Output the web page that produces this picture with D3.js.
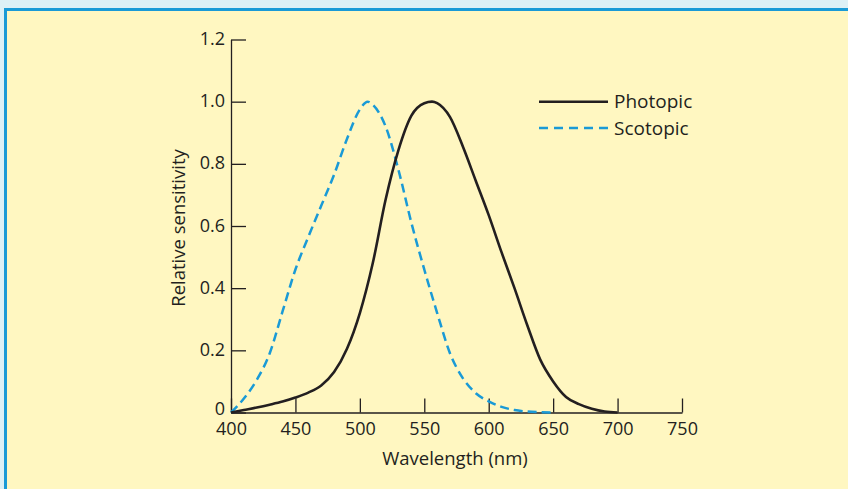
<!DOCTYPE html>
<html>
<head>
<meta charset="utf-8">
<script src="https://cdn.jsdelivr.net/npm/d3@7"></script>
<style>
  html, body { margin: 0; padding: 0; background: #ddf0f6; }
  svg { display: block; }
  text { font-family: "Open Sans", sans-serif; fill: #231f20; }
</style>
</head>
<body>
<svg id="chart" width="848" height="489"></svg>
<script>
// ---- data ----
const photopicWavelength = [400,410,420,430,440,450,460,470,480,490,500,510,520,530,540,550,556,560,570,580,590,600,610,620,630,640,650,660,670,680,690,700];
const photopicValue      = [0,0.008,0.016,0.025,0.035,0.048,0.064,0.087,0.13,0.205,0.32,0.48,0.685,0.845,0.955,0.995,1.0,0.995,0.95,0.855,0.745,0.635,0.515,0.40,0.28,0.17,0.10,0.05,0.027,0.012,0.003,0];
const scotopicWavelength = [400,410,420,430,440,450,460,470,480,490,500,506,510,520,530,540,550,560,570,580,590,600,610,620,630,640,650];
const scotopicValue      = [0,0.045,0.105,0.19,0.325,0.46,0.565,0.665,0.765,0.88,0.975,1.0,0.99,0.92,0.78,0.61,0.46,0.32,0.19,0.11,0.062,0.036,0.018,0.008,0.003,0.001,0];
const xTicks = [400,450,500,550,600,650,700,750];
const yTicks = [0,0.2,0.4,0.6,0.8,1.0,1.2];
const yTickLabels = ["0","0.2","0.4","0.6","0.8","1.0","1.2"];
const seriesNames = ["Photopic","Scotopic"];
const xTitle = "Wavelength (nm)";
const yTitle = "Relative sensitivity";

// ---- layout ----
const svg = d3.select("#chart");
const ink = "#231f20", blue = "#1a9ad6";

// panel
svg.append("rect").attr("x", 5.5).attr("y", 9.5).attr("width", 860).attr("height", 500)
  .attr("fill", "#fff7c1").attr("stroke", "#1a9ad6").attr("stroke-width", 3);

const x = d3.scaleLinear().domain([400, 750]).range([231, 682]);
const y = d3.scaleLinear().domain([0, 1.2]).range([412.5, 39.5]);

const xAxis = d3.axisBottom(x).tickValues(xTicks).tickFormat(d3.format("d"))
  .tickSize(-14).tickSizeOuter(0).tickPadding(10);
const yAxis = d3.axisLeft(y).tickValues(yTicks).tickFormat((d, i) => yTickLabels[i])
  .tickSize(-15).tickSizeOuter(0).tickPadding(6);

const gx = svg.append("g").attr("transform", `translate(0,${y(0)})`).call(xAxis);
const gy = svg.append("g").attr("transform", `translate(${x(400)},0)`).call(yAxis);
[gx, gy].forEach(g => {
  g.attr("font-size", null).attr("font-family", null);
  g.selectAll("path, line").attr("stroke", ink).attr("stroke-width", 1.3);
  g.selectAll("text").attr("fill", ink).style("font-size", "18px");
});
gy.selectAll("text").attr("dy", d => d === 0 ? "0.12em" : "0.28em");

// lines
const line = d3.line().x(d => x(d[0])).y(d => y(d[1])).curve(d3.curveMonotoneX);
const photo = photopicWavelength.map((w, i) => [w, photopicValue[i]]);
const scoto = scotopicWavelength.map((w, i) => [w, scotopicValue[i]]);

svg.append("path").datum(scoto).attr("d", line).attr("fill", "none")
  .attr("stroke", blue).attr("stroke-width", 2.5).attr("stroke-dasharray", "9,5");
svg.append("path").datum(photo).attr("d", line).attr("fill", "none")
  .attr("stroke", ink).attr("stroke-width", 2.6);

// legend
const legend = svg.append("g");
const legY = [y(1.0), y(0.915)];
seriesNames.forEach((name, i) => {
  legend.append("line").attr("x1", 539).attr("x2", 608).attr("y1", legY[i]).attr("y2", legY[i])
    .attr("stroke", i === 0 ? ink : blue).attr("stroke-width", 2.5)
    .attr("stroke-dasharray", i === 0 ? null : "9,6");
  legend.append("text").attr("x", 614).attr("y", legY[i]).attr("dy", "0.35em")
    .style("font-size", "19px").text(name);
});

// titles
svg.append("text").attr("x", 455).attr("y", 465).attr("text-anchor", "middle")
  .style("font-size", "18.5px").text(xTitle);
svg.append("text").attr("transform", `translate(185,${(y(0) + y(1.2)) / 2 + 2}) rotate(-90)`)
  .attr("text-anchor", "middle").style("font-size", "18.5px").text(yTitle);
</script>
</body>
</html>
